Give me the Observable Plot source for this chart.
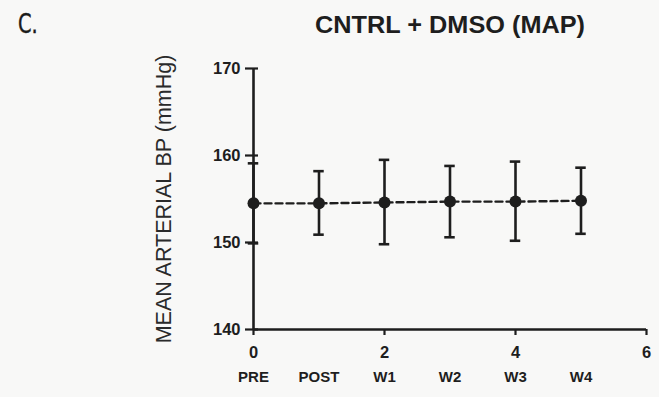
<!DOCTYPE html>
<html>
<head>
<meta charset="utf-8">
<script src="https://cdn.jsdelivr.net/npm/d3@7"></script>
<script src="https://cdn.jsdelivr.net/npm/@observablehq/plot@0.6"></script>
<style>
  html, body { margin: 0; padding: 0; background: #f8f8f7; }
  #wrap { position: relative; width: 659px; height: 397px; overflow: hidden; }
  #panel { position: absolute; left: 18px; top: 8px; font-family: "DejaVu Sans Condensed", "DejaVu Sans", sans-serif; font-size: 27px; color: #1a1a1a; transform: scaleX(0.8); transform-origin: left top; -webkit-text-stroke: 0.4px #1a1a1a; }
  #title { position: absolute; left: 450px; top: 12px; white-space: nowrap; transform: translateX(-50%) scaleX(1.1); font-family: "Liberation Sans", Arial, sans-serif; font-weight: bold; font-size: 23px; color: #1e1e1e; }
  svg { display: block; }
</style>
</head>
<body>
<div id="wrap">
  <div id="chart"></div>
  <div id="panel">C.</div>
  <div id="title">CNTRL + DMSO (MAP)</div>
</div>
<script>
const timepoints = ["PRE", "POST", "W1", "W2", "W3", "W4"];
const xPos = [0, 1, 2, 3, 4, 5];
const meanMAP = [154.5, 154.5, 154.6, 154.7, 154.7, 154.8];
const upperMAP = [159.1, 158.2, 159.5, 158.8, 159.3, 158.6];
const lowerMAP = [149.9, 150.9, 149.8, 150.6, 150.2, 151.0];
const xTicks = [0, 2, 4, 6];
const yTicks = [140, 150, 160, 170];

const data = timepoints.map((t, i) => ({
  label: t, x: xPos[i], mean: meanMAP[i], hi: upperMAP[i], lo: lowerMAP[i]
}));

const ink = "#1e1e1e";
const capHalf = 0.08;

const chart = Plot.plot({
  width: 659,
  height: 397,
  marginLeft: 253,
  marginRight: 13,
  marginTop: 68,
  marginBottom: 68,
  style: { background: "transparent", fontFamily: "'Liberation Sans', Arial, sans-serif", color: ink },
  x: { domain: [0, 6] },
  y: { domain: [140, 170] },
  marks: [
    Plot.axisY(yTicks, { tickSize: 13, dx: 5, tickPadding: 5, strokeWidth: 2.2, fontSize: 16.5, fontWeight: "bold", label: null, stroke: ink, fill: ink }),
    Plot.axisX(xTicks, { tickSize: 6, tickPadding: 11, strokeWidth: 2.2, fontSize: 16.5, fontWeight: "bold", label: null, stroke: ink, fill: ink }),
    Plot.ruleX([0], { stroke: ink, strokeWidth: 2.6 }),
    Plot.ruleY([140], { stroke: ink, strokeWidth: 2.6 }),
    Plot.text(["MEAN ARTERIAL BP (mmHg)"], { frameAnchor: "left", textAnchor: "middle", rotate: -90, dx: -89, fontSize: 21.5, fill: "#2a2a2a" }),
    Plot.text(data, { x: "x", text: "label", frameAnchor: "bottom", dy: 52, fontSize: 15, fontWeight: "bold", fill: ink, letterSpacing: "-0.4px" }),
    Plot.line(data, { x: "x", y: "mean", stroke: ink, strokeWidth: 2.4, strokeDasharray: "7,4" }),
    Plot.ruleX(data, { x: "x", y1: "lo", y2: "hi", stroke: ink, strokeWidth: 2.6 }),
    Plot.ruleY(data, { y: "hi", x1: d => d.x - capHalf, x2: d => d.x + capHalf, stroke: ink, strokeWidth: 2.6 }),
    Plot.ruleY(data, { y: "lo", x1: d => d.x - capHalf, x2: d => d.x + capHalf, stroke: ink, strokeWidth: 2.6 }),
    Plot.dot(data, { x: "x", y: "mean", r: 6, fill: ink, stroke: "none" })
  ]
});
document.getElementById("chart").appendChild(chart);
</script>
</body>
</html>
